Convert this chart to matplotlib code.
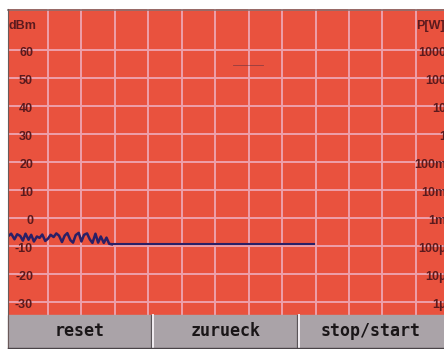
import matplotlib
matplotlib.use("Agg")
import matplotlib.pyplot as plt
from matplotlib.lines import Line2D
from matplotlib.patches import Rectangle

# ---------------- data ----------------
dbm_ticks = [60, 50, 40, 30, 20, 10, 0, -10, -20, -30]
dbm_labels = ["60", "50", "40", "30", "20", "10", "0", "-10", "-20", "-30"]
watt_labels = ["1000", "100", "10", "1", "100m", "10m", "1m", "100\u00b5", "10\u00b5", "1\u00b5"]
x_grid = [1, 2, 3, 4, 5, 6, 7, 8, 9, 10, 11, 12]

# noisy measured trace (grid divisions, dBm)
noise_x = [-0.19, -0.1, 0.0, 0.08, 0.17, 0.25, 0.33, 0.42, 0.5, 0.58, 0.67, 0.75,
           0.83, 0.92, 1.0, 1.08, 1.17, 1.25, 1.33, 1.42, 1.5, 1.58, 1.67, 1.75,
           1.83, 1.92, 2.0, 2.08, 2.17, 2.25, 2.33, 2.42, 2.5, 2.58, 2.67, 2.75,
           2.83, 2.91]
noise_y = [-6.5, -5.6, -7.6, -5.8, -6.4, -8.1, -5.6, -7.8, -6.0, -8.4, -6.6, -7.1,
           -5.9, -8.2, -7.4, -6.0, -6.8, -5.5, -6.3, -8.6, -6.3, -5.4, -7.9, -8.8,
           -6.1, -5.3, -8.4, -6.0, -5.5, -7.6, -8.9, -5.6, -8.8, -6.6, -8.9, -7.0,
           -9.2, -9.4]
flat_x = [2.91, 8.95]
flat_y = [-9.4, -9.4]
# faint stray mark
stray_x = [6.53, 7.43]
stray_y = [54.6, 54.6]

buttons = ["reset", "zurueck", "stop/start"]

# ---------------- layout helpers ----------------
W, H = 444, 349
def fx(px): return px / W
def fy(py): return 1 - py / H
def xdiv(px): return (px - 14.5) / 33.45
def dbv(py): return 60 - (py - 50) / 2.8

RED = "#e9523e"
GRID = "#eea0aa"
LABEL = "#5a1a1e"
TRACE = "#2a1f66"
GREY = "#aaa3a8"

fig = plt.figure(figsize=(4.44, 3.49), dpi=100)
fig.patch.set_facecolor("white")

ax = fig.add_axes([fx(8), fy(315), fx(444) - fx(8), fy(9) - fy(315)])
ax.set_facecolor(RED)
ax.set_xlim(xdiv(8), xdiv(444))
ax.set_ylim(dbv(315), dbv(9))
ax.set_xticks(x_grid)
ax.set_yticks(dbm_ticks)
ax.grid(True, color=GRID, lw=1.4)
ax.set_axisbelow(True)
ax.tick_params(length=0, labelleft=False, labelbottom=False)
for s in ax.spines.values():
    s.set_visible(False)

ax.plot(noise_x, noise_y, color=TRACE, lw=1.8, zorder=3)
ax.plot(flat_x, flat_y, color=TRACE, lw=1.5, zorder=3)
ax.plot(stray_x, stray_y, color="#5a3040", lw=0.6, alpha=0.6, zorder=3)

# left axis labels
tl = ax.get_yaxis_transform()
for v, lab in zip(dbm_ticks, dbm_labels):
    ax.text((33 - 8) / 436, v - 0.9, lab, transform=tl, ha="right", va="center",
            fontsize=9, fontweight="bold", color=LABEL, family="Liberation Sans")
for v, lab in zip(dbm_ticks, watt_labels):
    ax.text((446 - 8) / 436, v - 0.9, lab, transform=tl, ha="right", va="center",
            fontsize=9, fontweight="bold", color=LABEL, family="Liberation Sans",
            clip_on=False)
ax.text(0.0, dbv(26), "dBm", transform=tl, ha="left", va="center",
        fontsize=9, fontweight="bold", color=LABEL, family="Liberation Sans")
ax.text((416 - 8) / 436, dbv(26), "P[W]", transform=tl, ha="left", va="center",
        fontsize=9, fontweight="bold", color=LABEL, family="Liberation Sans")

# top & left borders
fig.add_artist(Line2D([fx(8), fx(444)], [fy(9.5), fy(9.5)], color="#8a7070", lw=1.2))
fig.add_artist(Line2D([fx(8), fx(8)], [fy(9), fy(349)], color="#6a5a5a", lw=0.8))

# buttons
fig.add_artist(Rectangle((fx(8), 0), fx(444) - fx(8), fy(315), color=GREY,
                         transform=fig.transFigure, zorder=1))
for xs in (151, 297):
    fig.add_artist(Line2D([fx(xs), fx(xs)], [fy(315), 0], color="#5a5458", lw=0.9, zorder=2))
    fig.add_artist(Line2D([fx(xs + 2), fx(xs + 2)], [fy(315), 0], color="#f2eef2", lw=1.4, zorder=2))
fig.add_artist(Line2D([fx(8), fx(444)], [fy(347.5), fy(347.5)], color="#4a4448", lw=1.0, zorder=2))

centers = [80, 226, 371]
for c, b in zip(centers, buttons):
    fig.text(fx(c), fy(331), b, ha="center", va="center", fontsize=12,
             fontweight="bold", color="#1a1618", family="DejaVu Sans Mono", zorder=3)

fig.savefig("out.png", dpi=100)
